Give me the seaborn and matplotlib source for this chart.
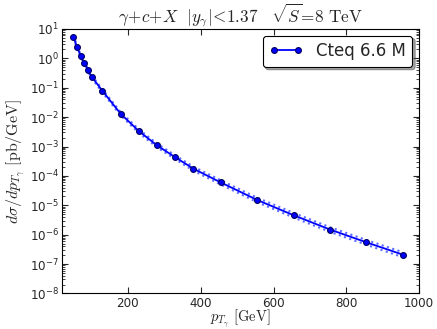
import seaborn as sns
import pandas as pd
import numpy as np
import matplotlib
matplotlib.use('Agg')
import matplotlib.pyplot as plt
from matplotlib.ticker import LogLocator, NullFormatter

# Data
pt = [50, 60, 70, 80, 90, 100, 130, 180, 230, 280, 330, 380, 455, 555, 655, 755, 855, 955]
xsec = [5.5, 2.45, 1.24, 0.68, 0.40, 0.24, 0.078, 0.013, 3.35e-3, 1.09e-3, 4.3e-4,
        1.76e-4, 6.0e-5, 1.52e-5, 4.6e-6, 1.5e-6, 5.5e-7, 2.1e-7]
xsec_up = [6.1, 2.72, 1.38, 0.76, 0.45, 0.27, 0.088, 0.0148, 3.85e-3, 1.26e-3, 5.0e-4,
           2.06e-4, 7.1e-5, 1.81e-5, 5.5e-6, 1.8e-6, 6.6e-7, 2.55e-7]
xsec_dn = [4.95, 2.2, 1.11, 0.61, 0.36, 0.215, 0.069, 0.0114, 2.9e-3, 0.94e-3, 3.7e-4,
           1.5e-4, 5.1e-5, 1.28e-5, 3.85e-6, 1.25e-6, 4.55e-7, 1.72e-7]
label = 'Cteq 6.6 M'

df = pd.DataFrame({'pt': pt, 'xsec': xsec, 'up': xsec_up, 'dn': xsec_dn})

sns.set_style('white', rc={'xtick.direction': 'in', 'ytick.direction': 'in',
                           'xtick.top': True, 'ytick.right': True,
                           'xtick.bottom': True, 'ytick.left': True,
                           'axes.edgecolor': 'black', 'axes.linewidth': 1.0})
plt.rcParams['mathtext.fontset'] = 'cm'
plt.rcParams['font.family'] = ['DejaVu Sans']

fig = plt.figure(figsize=(4.37, 3.29), dpi=100)
ax = fig.add_axes([0.142, 0.108, 0.817, 0.804])

# uncertainty band as dotted lines
ax.plot(df['pt'], df['up'], ls=':', color='#5c6cff', lw=1.5)
ax.plot(df['pt'], df['dn'], ls=':', color='#5c6cff', lw=1.5)
sns.lineplot(data=df, x='pt', y='xsec', ax=ax, color='blue', marker='o',
             markersize=4.2, markeredgecolor='#000060', markeredgewidth=0.8,
             lw=1.3, label=label)

ax.set_yscale('log')
ax.set_xlim(19, 1000)
ax.set_ylim(1e-8, 1e1)
ax.set_yticks([10.0**k for k in range(-8, 2)])
ax.yaxis.set_minor_locator(LogLocator(base=10, subs=np.arange(2, 10), numticks=20))
ax.yaxis.set_minor_formatter(NullFormatter())
ax.set_xticks([200, 400, 600, 800, 1000])
ax.tick_params(which='major', length=4, width=0.8, labelsize=8.6, pad=2.5)
ax.tick_params(which='minor', length=2, width=0.6)

ax.set_title(r'$\gamma\!+\!c\!+\!X\ \ |y_\gamma|\!<\!1.37\quad \sqrt{S}\!=\!8\ \mathrm{TeV}$',
             fontsize=12.3, pad=2)
ax.set_xlabel(r'$p_{T_\gamma}\ [\mathrm{GeV}]$', fontsize=10.5)
ax.xaxis.set_label_coords(0.5, -0.052)
ax.set_ylabel(r'$d\sigma/dp_{T_\gamma}\ [\mathrm{pb/GeV}]$', fontsize=11.5, labelpad=1)

leg = ax.legend(loc='upper right', fontsize=12, fancybox=True, shadow=True,
                frameon=True, edgecolor='black', framealpha=1, numpoints=2,
                borderaxespad=0.4, handlelength=2.0)
leg.get_frame().set_linewidth(0.8)

fig.savefig('out.png', dpi=100)
